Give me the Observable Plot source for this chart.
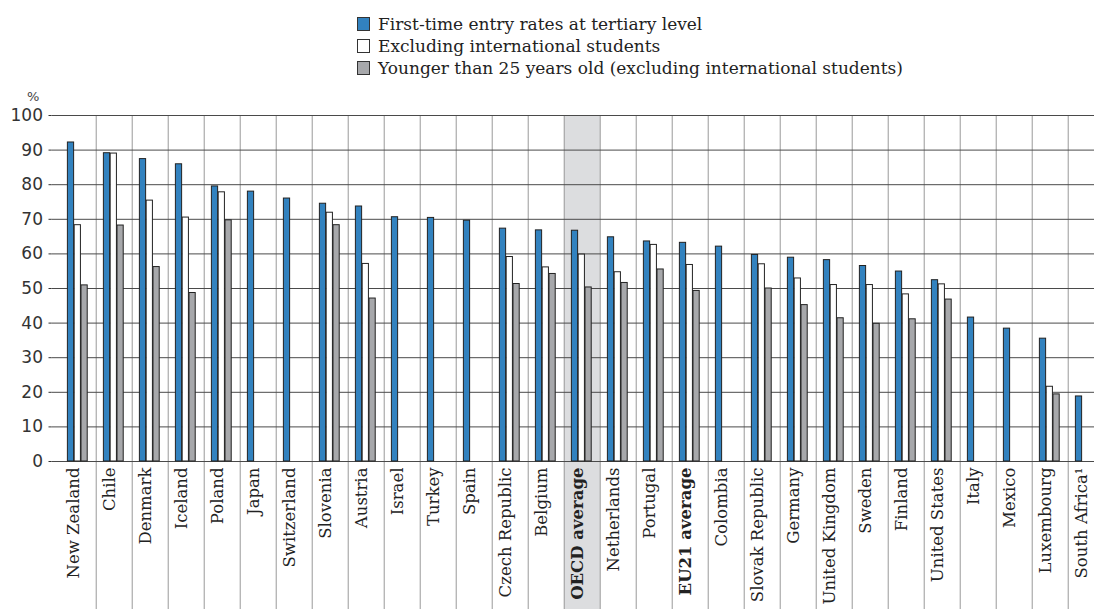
<!DOCTYPE html>
<html><head><meta charset="utf-8">
<script src="https://cdn.jsdelivr.net/npm/d3@7"></script>
<script src="https://cdn.jsdelivr.net/npm/@observablehq/plot@0.6"></script>
<style>
html,body{margin:0;padding:0;overflow:hidden;background:#fff;width:1094px;height:609px}
#legend{height:80px;box-sizing:border-box;padding-top:13px;padding-left:357px;color:#222}
.row{height:22px;display:flex;align-items:center;white-space:nowrap}
.lbl{font-family:'DejaVu Serif','Liberation Serif',serif;font-size:17px}
.sw{width:13px;height:14px;border:1px solid #333;margin-right:8px;box-sizing:border-box;flex:none}
#chart{width:1112px}
#chart svg{display:block;max-width:none !important;width:1112px !important;height:529px !important}
</style></head><body>
<div id="legend"></div><div id="chart"></div>
<script>
const categories = ["New Zealand","Chile","Denmark","Iceland","Poland","Japan","Switzerland","Slovenia","Austria","Israel","Turkey","Spain","Czech Republic","Belgium","OECD average","Netherlands","Portugal","EU21 average","Colombia","Slovak Republic","Germany","United Kingdom","Sweden","Finland","United States","Italy","Mexico","Luxembourg","South Africa¹"];
const firstTime = [92.2,89.1,87.4,85.9,79.5,78.0,76.0,74.5,73.7,70.6,70.4,69.6,67.3,66.8,66.7,64.8,63.6,63.2,62.1,59.7,58.9,58.2,56.5,54.9,52.4,41.6,38.4,35.5,18.8];
const exclIntl = [68.3,89.0,75.4,70.5,77.8,null,null,71.9,57.1,null,null,null,59.1,56.1,59.8,54.7,62.6,56.8,null,57.0,52.9,51.0,51.0,48.3,51.2,null,null,21.6,null];
const under25 = [50.9,68.2,56.2,48.7,69.7,null,null,68.3,47.1,null,null,null,51.3,54.2,50.3,51.6,55.5,49.3,null,50.0,45.2,41.4,39.8,41.1,46.8,null,null,19.4,null];
const seriesNames = ["First-time entry rates at tertiary level","Excluding international students","Younger than 25 years old (excluding international students)"];
const seriesColors = ["#3282bf","#ffffff","#a7a8ab"];
const averages = ["OECD average","EU21 average"];
const highlighted = ["OECD average"];
const yTicks = [0,10,20,30,40,50,60,70,80,90,100];

// legend
const legend = document.getElementById("legend");
seriesNames.forEach((name, i) => {
  const row = document.createElement("div");
  row.className = "row";
  const sw = document.createElement("span");
  sw.className = "sw";
  sw.style.background = seriesColors[i];
  const t = document.createElement("span");
  t.className = "lbl";
  t.textContent = name;
  row.appendChild(sw); row.appendChild(t);
  legend.appendChild(row);
});

const W = 1112, H = 529, ML = 51.5, MR = 0, MT = 35, MB = 148;
const step = (W - ML - MR) / categories.length;
const barW = 6.8;
const inset = (step - barW) / 2;
const rows = categories.map((c, i) => ({c, v: [firstTime[i], exclIntl[i], under25[i]]}));

const barMarks = [0, 1, 2].map(k =>
  Plot.barY(rows.filter(d => d.v[k] != null), {
    x: "c", y: d => d.v[k], fill: seriesColors[k], stroke: "#222", strokeWidth: 1,
    insetLeft: inset, insetRight: inset, dx: (k - 1) * barW - 0.7
  })
);

const chart = Plot.plot({
  width: W, height: H,
  marginLeft: ML, marginRight: MR, marginTop: MT, marginBottom: MB,
  style: {maxWidth: "none"},
  x: {domain: categories, padding: 0, axis: null},
  y: {domain: [0, 100], axis: null},
  marks: [
    Plot.cell(highlighted, {x: d => d, fill: "#dcdddf", insetBottom: -MB}),
    Plot.ruleX(categories.slice(1), {x: d => d, dx: -step / 2, stroke: "#9a9a9a", strokeWidth: 1, insetBottom: -MB}),
    Plot.ruleY(yTicks, {stroke: "#4a4a4a", strokeWidth: 1}),
    Plot.axisY(yTicks, {tickSize: 3, tickPadding: 6, fontSize: 17, fontFamily: "DejaVu Sans", color: "#333", label: null}),
    Plot.text(["%"], {frameAnchor: "top-left", dx: -25, dy: -24, fontSize: 13, fontFamily: "DejaVu Sans", fill: "#444"}),
    ...barMarks,
    Plot.text(categories.filter(c => !averages.includes(c)), {x: d => d, text: d => d, frameAnchor: "bottom", rotate: -90, textAnchor: "end", dy: 6, fontFamily: "DejaVu Serif", fontSize: 16.5, fill: "#222"}),
    Plot.text(averages, {x: d => d, text: d => d, frameAnchor: "bottom", rotate: -90, textAnchor: "end", dy: 6, fontFamily: "DejaVu Serif", fontSize: 16.5, fontWeight: "bold", fill: "#222"})
  ]
});
document.getElementById("chart").appendChild(chart);
</script>
</body></html>
